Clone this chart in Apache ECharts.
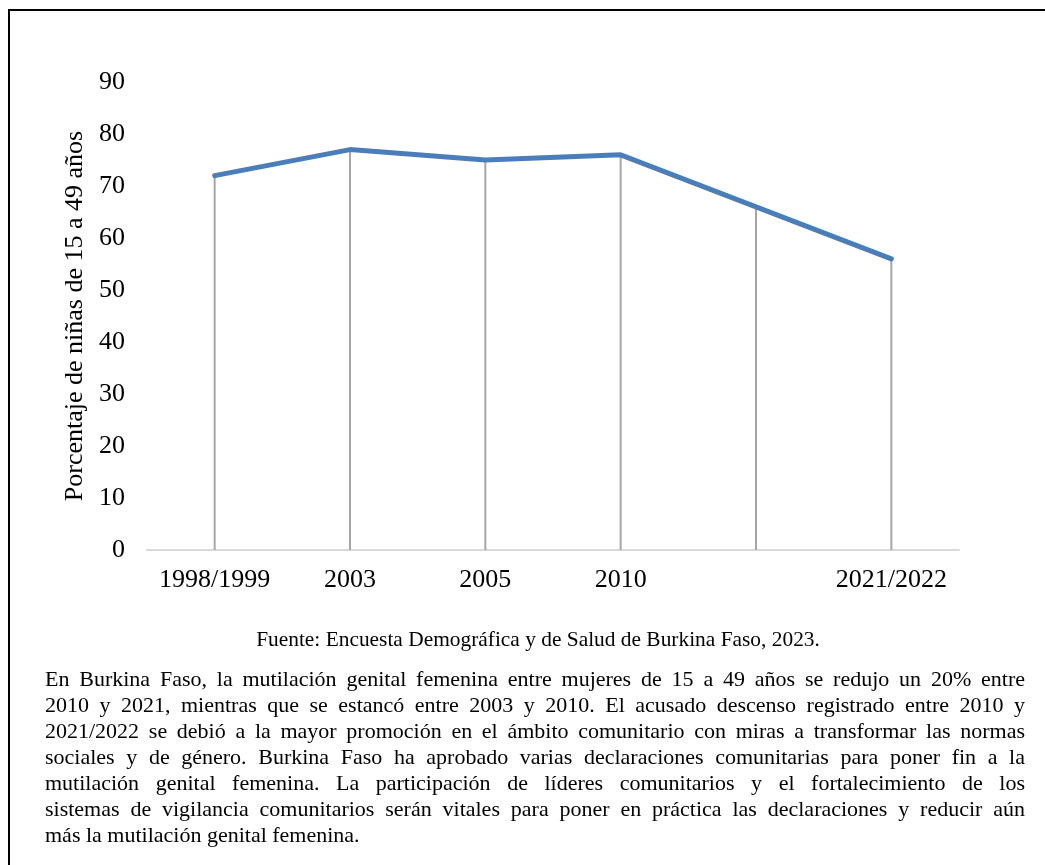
<!DOCTYPE html>
<html>
<head>
<meta charset="utf-8">
<script src="https://cdn.jsdelivr.net/npm/echarts@6/dist/echarts.min.js"></script>
<style>
  html, body { margin: 0; padding: 0; background: #fff; }
  #wrap { position: relative; width: 1045px; height: 865px; overflow: hidden; background: #fff; }
  #chart { position: absolute; left: 0; top: 0; width: 1045px; height: 865px; }
  #frame { position: absolute; left: 8px; top: 9px; width: 1100px; height: 900px;
           border-left: 2px solid #000; border-top: 2px solid #000; pointer-events: none; }
  #para { position: absolute; left: 45px; top: 666px; width: 980px;
          font-family: "Liberation Serif", "Times New Roman", serif; font-size: 22px;
          line-height: 26px; color: #000; }
  #para .l { display: block; text-align: justify; text-align-last: justify;
             text-justify: inter-word; letter-spacing: 0; white-space: nowrap; }
  #para .l.last { text-align: left; text-align-last: left; }
</style>
</head>
<body>
<div id="wrap">
  <div id="chart"></div>
  <div id="frame"></div>
  <div id="para"><span class="l">En Burkina Faso, la mutilación genital femenina entre mujeres de 15 a 49 años se redujo un 20% entre</span><span class="l">2010 y 2021, mientras que se estancó entre 2003 y 2010. El acusado descenso registrado entre 2010 y</span><span class="l">2021/2022 se debió a la mayor promoción en el ámbito comunitario con miras a transformar las normas</span><span class="l">sociales y de género. Burkina Faso ha aprobado varias declaraciones comunitarias para poner fin a la</span><span class="l">mutilación genital femenina. La participación de líderes comunitarios y el fortalecimiento de los</span><span class="l">sistemas de vigilancia comunitarios serán vitales para poner en práctica las declaraciones y reducir aún</span><span class="l last">más la mutilación genital femenina.</span></div>
</div>
<script>
var categories = ["1998/1999", "2003", "2005", "2010", "", "2021/2022"];
var values = [72, 77, 75, 76, 66, 56];
var yAxisTitle = "Porcentaje de niñas de 15 a 49 años";
var sourceText = "Fuente: Encuesta Demográfica y de Salud de Burkina Faso, 2023.";

var serif = '"Liberation Serif", "Times New Roman", serif';
var chart = echarts.init(document.getElementById('chart'), null, { renderer: 'canvas' });
chart.setOption({
  backgroundColor: '#fff',
  animation: false,
  title: {
    text: sourceText,
    left: 533, top: 625, textAlign: 'center',
    textStyle: { fontFamily: serif, fontSize: 21.4, fontWeight: 'normal', color: '#000' }
  },
  grid: { left: 147, right: 86, top: 82, bottom: 315, containLabel: false },
  xAxis: {
    type: 'category',
    data: categories,
    boundaryGap: true,
    axisLine: { show: true, lineStyle: { color: '#d9d9d9', width: 2 } },
    axisTick: { show: false },
    axisLabel: { fontFamily: serif, fontSize: 26, color: '#000', margin: 17, interval: 0 }
  },
  yAxis: {
    type: 'value',
    min: 0, max: 90, interval: 10,
    name: yAxisTitle,
    nameLocation: 'middle',
    nameGap: 58,
    nameRotate: 90,
    nameTextStyle: { fontFamily: serif, fontSize: 26, color: '#000' },
    axisLine: { show: false },
    axisTick: { show: false },
    splitLine: { show: false },
    axisLabel: { fontFamily: serif, fontSize: 26, color: '#000', margin: 22 }
  },
  series: [
    {
      type: 'bar',
      data: values,
      barWidth: 2,
      itemStyle: { color: '#a6a6a6' },
      silent: true,
      z: 1
    },
    {
      type: 'line',
      data: values,
      symbol: 'none',
      lineStyle: { color: '#4a7ebb', width: 5, cap: 'round', join: 'round' },
      z: 3
    }
  ]
});
</script>
</body>
</html>
